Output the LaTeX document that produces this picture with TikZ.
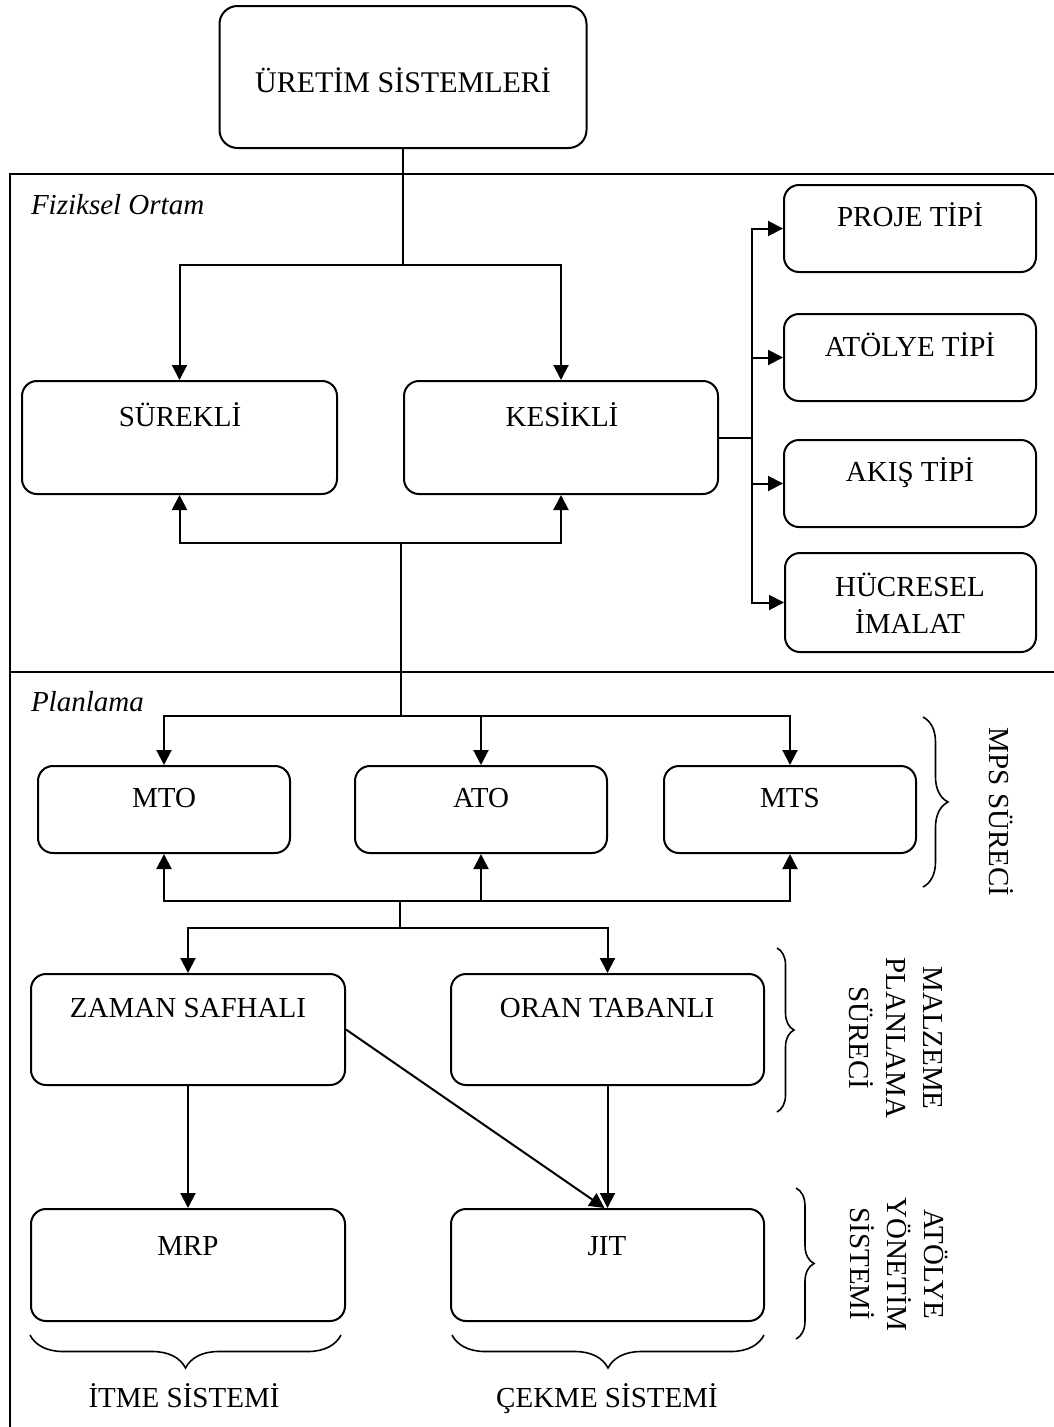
\documentclass[tikz,border=0pt]{standalone}
\usepackage{fontspec}
\setmainfont{Liberation Serif}
\usetikzlibrary{arrows.meta,decorations.pathreplacing,calc}
\begin{document}
\begin{tikzpicture}[x=1pt,y=-1pt,
  line width=2pt,
  conn/.style={line width=2pt},
  box/.style={draw, line width=2pt, rounded corners=15pt, inner sep=0pt},
  txt/.style={font=\fontsize{29}{36}\selectfont, inner sep=0pt, text height=19pt, text depth=0pt},
  mtxt/.style={font=\fontsize{29}{37}\selectfont, inner sep=0pt, align=center},
  lbl/.style={font=\fontsize{29}{36}\selectfont\itshape, inner sep=0pt, anchor=base west},
  arr/.style={conn, -{Triangle[length=15pt,width=15pt]}},
  brc/.style={decorate, decoration={brace, amplitude=#1}, line width=1.6pt},
]
\useasboundingbox (0,0) rectangle (1054,1427);

% frame
\draw[conn] (1060,174) -- (10,174) -- (10,1435);
\draw[conn] (10,672) -- (1060,672);
\node[lbl] (fiz) at (30,214) {Fiziksel Ortam};
\node[lbl] (plan) at (30,711) {Planlama};

% boxes
\node[box, minimum width=367pt, minimum height=142pt, rounded corners=18pt] (uretim) at (403,77) {};
\node[box, minimum width=315pt, minimum height=113pt] (surekli) at (179.5,437.5) {};
\node[box, minimum width=314pt, minimum height=113pt] (kesikli) at (561,437.5) {};
\node[box, minimum width=252pt, minimum height=87pt] (proje) at (910,228.5) {};
\node[box, minimum width=252pt, minimum height=87pt] (atolye) at (910,357.5) {};
\node[box, minimum width=252pt, minimum height=87pt] (akis) at (910,483.5) {};
\node[box, minimum width=251pt, minimum height=99pt] (hucresel) at (910.5,602.5) {};
\node[box, minimum width=252pt, minimum height=87pt] (mto) at (164,809.5) {};
\node[box, minimum width=252pt, minimum height=87pt] (ato) at (481,809.5) {};
\node[box, minimum width=252pt, minimum height=87pt] (mts) at (790,809.5) {};
\node[box, minimum width=314pt, minimum height=111pt] (zaman) at (188,1029.5) {};
\node[box, minimum width=313pt, minimum height=111pt] (oran) at (607.5,1029.5) {};
\node[box, minimum width=314pt, minimum height=112pt] (mrp) at (188,1265) {};
\node[box, minimum width=313pt, minimum height=112pt] (jit) at (607.5,1265) {};

% texts
\node[txt, font=\fontsize{30}{36}\selectfont, text height=20pt] (t-uretim) at (403,82) {ÜRETİM SİSTEMLERİ};
\node[txt] (t-surekli) at (180,417) {SÜREKLİ};
\node[txt] (t-kesikli) at (562,417) {KESİKLİ};
\node[txt] (t-proje) at (910,217) {PROJE TİPİ};
\node[txt] (t-atolye) at (910,347) {ATÖLYE TİPİ};
\node[txt] (t-akis) at (910,472) {AKIŞ TİPİ};
\node[mtxt] (t-hucresel) at (910,603) {HÜCRESEL\\İMALAT};
\node[txt] (t-mto) at (164,798) {MTO};
\node[txt] (t-ato) at (481,798) {ATO};
\node[txt] (t-mts) at (790,798) {MTS};
\node[txt] (t-zaman) at (188,1008) {ZAMAN SAFHALI};
\node[txt] (t-oran) at (607,1008) {ORAN TABANLI};
\node[txt] (t-mrp) at (188,1246) {MRP};
\node[txt] (t-jit) at (607,1246) {JIT};

% connectors top
\coordinate (j1) at (403,265);
\draw[conn] (uretim.south) -- (j1);
\draw[arr] (j1) -| (surekli.north);
\draw[arr] (j1) -| (kesikli.north);
\coordinate (k) at (752,437.5);
\draw[conn] (kesikli.east) -- (k);
\draw[arr] (k) |- (proje.west);
\draw[arr] (k) |- (atolye.west);
\draw[arr] (k) |- (akis.west);
\draw[arr] (k) |- (hucresel.west);
\coordinate (j2) at (401,543);
\draw[arr] (j2) -| (surekli.south);
\draw[arr] (j2) -| (kesikli.south);
\coordinate (j3) at (401,716);
\draw[conn] (j2) -- (j3);
\draw[arr] (j3) -| (mto.north);
\draw[arr] (j3) -| (ato.north);
\draw[arr] (j3) -| (mts.north);
\coordinate (j4) at (400,901);
\draw[arr] (j4) -| (mto.south);
\draw[arr] (j4) -| (ato.south);
\draw[arr] (j4) -| (mts.south);
\coordinate (j5) at (400,928);
\draw[conn] (j4) -- (j5);
\draw[arr] (j5) -| (zaman.north);
\draw[arr] (j5) -| (oran.north);
\draw[arr] (zaman.south) -- (mrp.north);
\draw[arr] (oran.south) -- (jit.north);
\draw[arr] (zaman.east) -- ([xshift=-3pt]jit.north);

% braces
\draw[brc=25pt] (923,717) -- (923,887);
\draw[brc=17pt] (777,948) -- (777,1112);
\draw[brc=18pt] (796,1188) -- (796,1339);
\draw[brc=33pt] (341,1335) -- (30,1335);
\draw[brc=33pt] (764,1335) -- (452,1335);

% brace labels
\node[txt, rotate=-90] (mps) at (999,812) {MPS SÜRECİ};
\node[mtxt, rotate=-90] (malz) at (896,1038) {MALZEME\\PLANLAMA\\SÜRECİ};
\node[mtxt, rotate=-90] (atyon) at (899,1264) {ATÖLYE\\YÖNETİM\\SİSTEMİ};
\node[txt] (itme) at (184,1398) {İTME SİSTEMİ};
\node[txt] (cekme) at (607,1398) {ÇEKME SİSTEMİ};
\end{tikzpicture}
\end{document}
